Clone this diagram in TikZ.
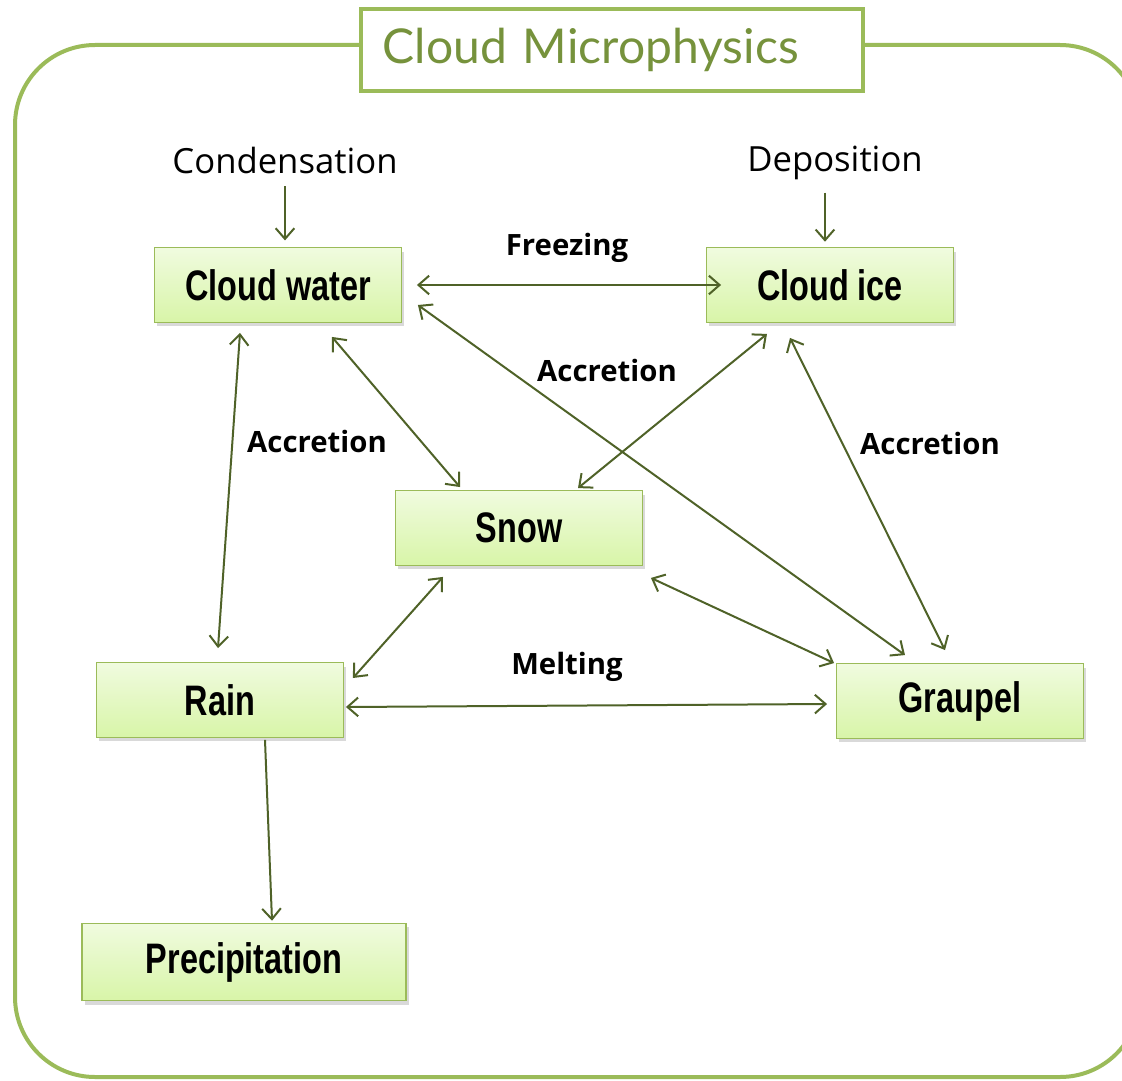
\documentclass[tikz,border=0pt]{standalone}
\usepackage{fontspec}
\setmainfont{Open Sans}
\newfontfamily\titlefont{Lato}
\newfontfamily\boxfont[FakeStretch=0.76]{Liberation Sans}
\usepackage{tikz}
\usetikzlibrary{arrows.meta,calc,positioning,shadows}
\definecolor{framegreen}{HTML}{9BBB59}
\definecolor{titlegreen}{HTML}{76923C}
\definecolor{arrowgreen}{HTML}{4F6228}
\definecolor{boxtop}{HTML}{F0FBDF}
\definecolor{boxbot}{HTML}{D8F5A8}
\tikzset{
	stage/.style={
		shape=rectangle,
		minimum width=185pt,
		minimum height=56pt,
		draw=framegreen,
		line width=0.9pt,
		top color=boxtop,
		bottom color=boxbot,
		drop shadow={opacity=0.3, shadow xshift=2pt, shadow yshift=-3pt},
		font=\boxfont\bfseries\fontsize{32}{36}\selectfont
	},
	source/.style={
		font=\fontsize{26}{30}\selectfont
	},
	process/.style={
		font=\bfseries\fontsize{22}{26}\selectfont
	},
	titlebox/.style={
		shape=rectangle,
		draw=framegreen,
		line width=3pt,
		fill=white,
		minimum height=62pt,
		inner xsep=16pt,
		text width=344pt,
		align=left,
		text=titlegreen,
		font=\titlefont\fontsize{36}{40}\selectfont
	},
	myarrow/.style={draw=arrowgreen, line width=1.5pt, -{Straight Barb[length=8pt,width=14pt]}},
	myarrow2/.style={myarrow, {Straight Barb[length=8pt,width=14pt]}-{Straight Barb[length=8pt,width=14pt]}},
}

\begin{document}
\begin{tikzpicture}[x=0.75pt,y=-0.75pt]

	\path[use as bounding box, clip] (0,0) rectangle (1122,1081);

	% frame and title
	\draw[framegreen, line width=3pt, rounded corners=60pt] (15,45) rectangle (1140,1077);
	\node[titlebox] (title) at (612,50) {Cloud Microphysics};

	% hydrometeors
	\node[stage] (cw) at (278,285) {Cloud water};
	\node[stage] (ci) at (830,285) {Cloud ice};
	\node[stage] (sn) at (519,528) {Snow};
	\node[stage] (rn) at (220,700) {Rain};
	\node[stage] (gr) at (960,701) {Graupel};
	\node[stage, minimum width=243pt, minimum height=58pt] (pr) at (244,962) {Precipitation};

	\node[source] (cond) at (285,160) {Condensation};
	\node[source] (dep) at (835,163) {Deposition};
	\coordinate (deptip) at (dep.south |- ci.north);

	\node[process] (frz) at (567,248) {Freezing};
	\node[process] (acc1) at (317,441) {Accretion};
	\node[process] (acc2) at (607,370) {Accretion};
	\node[process] (acc3) at (930,443) {Accretion};
	\node[process] (melt) at (567,667) {Melting};

	% sources
	\draw[myarrow, shorten <=6pt, shorten >=5pt] (cond.south) -- (cond.south |- cw.north);
	\draw[myarrow, shorten <=6pt, shorten >=4pt] ($(dep.south)+(-10,0)$) -- ($(deptip)+(-10,0)$);

	% exchanges
	\draw[myarrow2] ($(cw.east)+(15,0)$) -- ($(ci.west)+(15,0)$);
	\draw[myarrow2] ($(cw.south)+(-38,10)$) -- ($(rn.north)+(-2,-14)$);
	\draw[myarrow2] ($(cw.south)+(54,14)$) -- ($(sn.north)+(-59,-3)$);
	\draw[myarrow2] ($(cw.east)+(16,20)$) -- ($(gr.north)+(-55,-8)$);
	\draw[myarrow2] ($(ci.south)+(-63,11)$) -- ($(sn.north)+(59,-2)$);
	\draw[myarrow2] ($(ci.south)+(-40,15)$) -- ($(gr.north)+(-15,-13)$);
	\draw[myarrow2] ($(sn.south)+(-76,11)$) -- ($(rn.east)+(9,-22)$);
	\draw[myarrow2] ($(sn.south east)+(8,12)$) -- ($(gr.north west)+(-2,0)$);
	\draw[myarrow2] ($(rn.east)+(2,7)$) -- ($(gr.west)+(-9,3)$);

	% fallout
	\draw[myarrow] ($(rn.south)+(45,2)$) -- ($(pr.north)+(28,-2)$);

\end{tikzpicture}
\end{document}
